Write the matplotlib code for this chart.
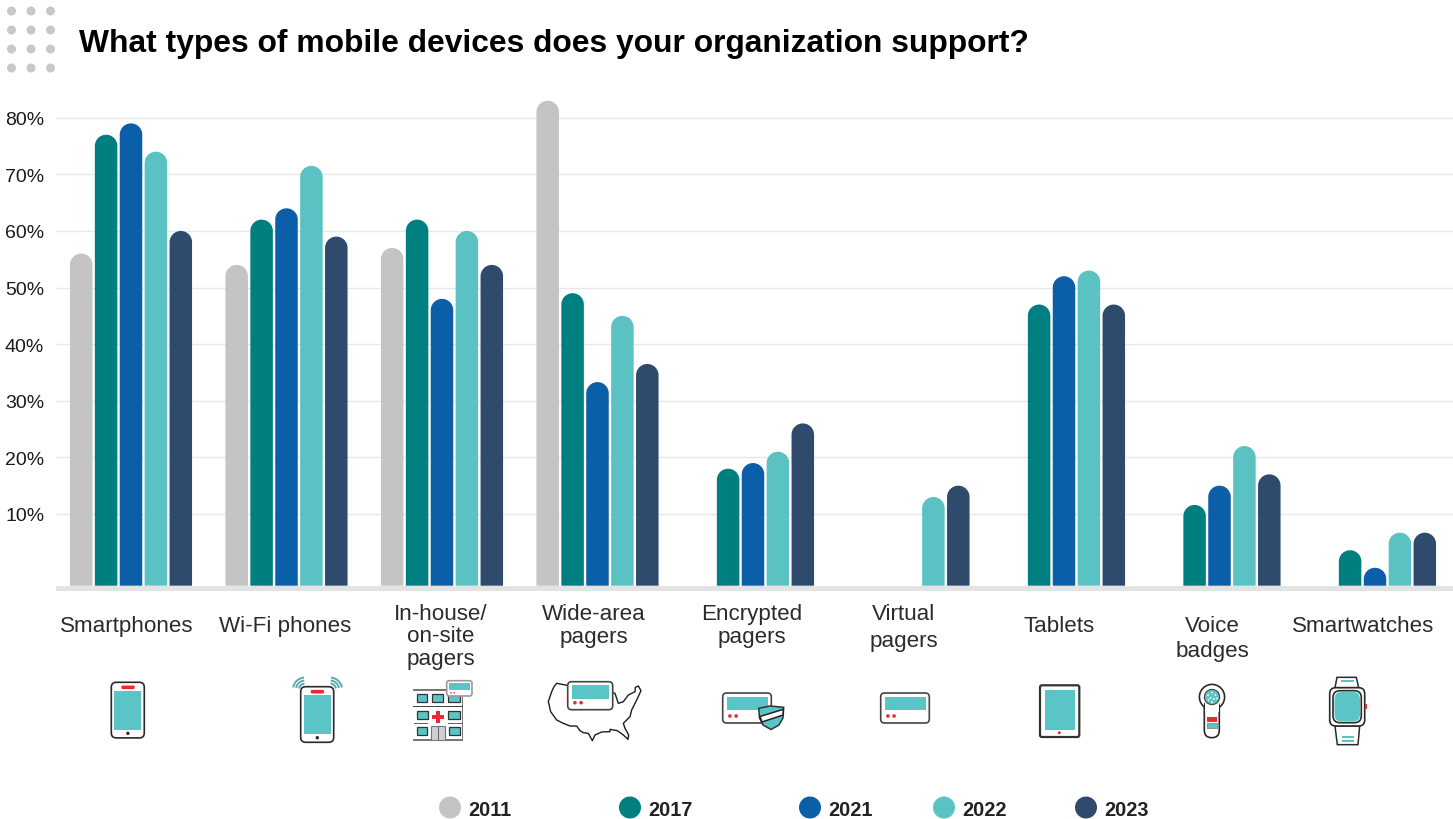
import numpy as np
import matplotlib
matplotlib.use('Agg')
import matplotlib.pyplot as plt
from matplotlib.patches import Circle, FancyBboxPatch, PathPatch, Polygon, Rectangle, Arc
from matplotlib.path import Path

W, H = 1453, 820

years = ['2011', '2017', '2021', '2022', '2023']
year_colors = ['#c4c4c4', '#007f80', '#0a5fa8', '#5bc2c4', '#2e4a6d']
legend_x = [450, 630, 810, 944, 1086]

labels = ['Smartphones', 'Wi-Fi phones', 'In-house/\non-site\npagers', 'Wide-area\npagers',
          'Encrypted\npagers', 'Virtual\npagers', 'Tablets', 'Voice\nbadges', 'Smartwatches']
label_x = [127, 285, 441, 594, 752, 904, 1059, 1212, 1363]
label_y = [626, 626, 636, 625, 625, 627, 626, 638, 626]
label_spacing = [1.2, 1.2, 1.07, 1.13, 1.13, 1.33, 1.2, 1.3, 1.2]

v2011 = [56, 54, 57, 83, None, None, None, None, None]
v2017 = [77, 62, 62, 49, 18, None, 47, 11.6, 3.6]
v2021 = [79, 64, 48, 33.3, 19, None, 52, 15, 0.5]
v2022 = [74, 71.5, 60, 45, 21, 13, 53, 22, 6.7]
v2023 = [60, 59, 54, 36.5, 26, 15, 47, 17, 6.7]
series = [v2011, v2017, v2021, v2022, v2023]

yticks = [10, 20, 30, 40, 50, 60, 70, 80]

TEAL = '#5bc4c6'
RED = '#ee2737'
INK = '#2a2a2a'

# pixel scale of the value axis, bars run below zero down to the thick base line
PX_PER_PCT = 5.661
BASE = -(586 - 570.9) / PX_PER_PCT
GROUP_PX = 155.5
SLOT = 24.9 / GROUP_PX
BAR_W = 22.5 / GROUP_PX

TEXT_FONT = ['Liberation Sans', 'DejaVu Sans']


def round_top(rect, radius_px=11.25):
    """Swap a bar rectangle for the same bar with a rounded top"""
    x0, y0 = rect.get_x(), rect.get_y()
    w, h = rect.get_width(), rect.get_height()
    x1, y1 = x0 + w, y0 + h
    rx = w / 2
    ry = radius_px / PX_PER_PCT
    k = 0.5523
    verts = [(x0, y0), (x0, y1 - ry),
             (x0, y1 - ry + k * ry), (x0 + rx - k * rx, y1), (x0 + rx, y1),
             (x0 + rx + k * rx, y1), (x1, y1 - ry + k * ry), (x1, y1 - ry),
             (x1, y0), (x0, y0)]
    codes = [Path.MOVETO, Path.LINETO, Path.CURVE4, Path.CURVE4, Path.CURVE4,
             Path.CURVE4, Path.CURVE4, Path.CURVE4, Path.LINETO, Path.CLOSEPOLY]
    patch = PathPatch(Path(verts, codes), facecolor=rect.get_facecolor(), edgecolor='none', zorder=3)
    rect.remove()
    return patch


def draw_bars(ax):
    for s, (values, color) in enumerate(zip(series, year_colors)):
        for i, v in enumerate(values):
            if v is None:
                continue
            x = i + (s - 2) * SLOT
            bar = ax.bar(x, v - BASE, BAR_W, bottom=BASE, color=color)[0]
            ax.add_patch(round_top(bar))


def rbox(ov, x0, y0, x1, y1, r, fc='white', ec=INK, lw=1.2, z=5):
    ov.add_patch(FancyBboxPatch((x0 + r, y0 + r), x1 - x0 - 2 * r, y1 - y0 - 2 * r,
                                boxstyle=f'round,pad={r},rounding_size={r}',
                                fc=fc, ec=ec, lw=lw, zorder=z))


def box(ov, x0, y0, x1, y1, fc, ec='none', lw=0, z=6):
    ov.add_patch(Rectangle((x0, y0), x1 - x0, y1 - y0, fc=fc, ec=ec, lw=lw, zorder=z))


def dot(ov, x, y, r, fc=RED, z=7):
    ov.add_patch(Circle((x, y), r, fc=fc, ec='none', zorder=z))


def phone(ov, x0, y0):
    rbox(ov, x0, y0, x0 + 33, y0 + 55.6, 5)
    box(ov, x0 + 2.8, y0 + 8.5, x0 + 30, y0 + 47.5, TEAL)
    rbox(ov, x0 + 10, y0 + 3.2, x0 + 23.4, y0 + 6.8, 1.5, fc=RED, ec='none', lw=0, z=7)
    dot(ov, x0 + 16.6, y0 + 51, 1.7, fc=INK)


def pager(ov, x0, y0, x1, y1, z=5):
    rbox(ov, x0, y0, x1, y1, 4, ec='#444444', z=z)
    box(ov, x0 + 3.8, y0 + 3.7, x1 - 3.6, y0 + 17, TEAL, z=z + 1)
    dot(ov, x0 + 7.2, y1 - 7, 1.8, z=z + 1)
    dot(ov, x0 + 13.4, y1 - 7, 1.8, z=z + 1)


def hospital(ov):
    box(ov, 413.5, 690, 462.5, 740, 'white', z=4)
    box(ov, 413, 688.5, 463, 691, '#777777')
    box(ov, 413, 739, 463, 741.3, '#777777')
    box(ov, 413.5, 690, 414.3, 740, '#777777')
    box(ov, 461.7, 690, 462.5, 740, '#777777')
    box(ov, 413, 706, 463, 707.4, '#444444')
    box(ov, 413.5, 723, 428, 724.2, '#666666')
    box(ov, 448, 723, 462.5, 724.2, '#666666')
    rows = [(694.3, 702.3, [(416.7, 427.3), (432.3, 443.3), (448.3, 460)]),
            (711, 719, [(416.7, 428), (448.3, 460)]),
            (727.3, 735, [(416.7, 427.3), (449, 460)])]
    for y0, y1, cols in rows:
        for x0, x1 in cols:
            box(ov, x0, y0, x1, y1, TEAL, ec='#333333', lw=0.9)
    box(ov, 431, 726, 445, 740, '#d0d0d0', ec='#777777', lw=0.8)
    box(ov, 437.5, 726, 438.5, 740, '#666666', z=7)
    box(ov, 432, 714.7, 444, 718.7, RED)
    box(ov, 436, 710.7, 440, 722.7, RED)
    rbox(ov, 446.7, 680.7, 472, 696, 2.5, ec='#999999', z=8)
    box(ov, 449, 682.7, 470, 690, TEAL, z=9)
    dot(ov, 451, 692.8, 0.8, z=9)
    dot(ov, 454.2, 692.8, 0.8, z=9)


def wifi_arcs(ov):
    for cx, a0, a1 in [(305, 190, 265), (330, 275, 350)]:
        for r in [6, 9, 12]:
            # y axis of this layer points down, angles are mirrored accordingly
            ov.add_patch(Arc((cx, 689.5), 2 * r, 2 * r, theta1=a0, theta2=a1,
                             ec='#5aa9ad', lw=1.4, zorder=5))


def usa(ov):
    outline = [(112, 76), (80, 70), (72, 80), (65, 95), (55, 125), (62, 155), (80, 180), (100, 190),
               (120, 198), (140, 198), (150, 212), (160, 218), (175, 220), (187, 242), (195, 225),
               (215, 216), (240, 215), (240, 208), (262, 212), (280, 225), (294, 238), (296, 225),
               (285, 205), (280, 190), (300, 170), (305, 150), (320, 120), (333, 92), (325, 78),
               (316, 82), (315, 95), (295, 105), (280, 125), (265, 130), (255, 100), (248, 98)]
    xs = [530 + p[0] / 3 for p in outline]
    ys = [660 + p[1] / 3 for p in outline]
    ov.plot(xs, ys, color='#1c1c1c', lw=1.0, zorder=4)
    pager(ov, 567.7, 681.7, 612.7, 709.7)


def encrypted(ov):
    pager(ov, 722.7, 693, 771.3, 723)
    shield = [(758.7, 708.3), (770, 706), (783.7, 707.3), (783, 718), (779, 725), (771, 729.5), (763, 725), (759.5, 718)]
    ov.add_patch(Polygon(shield, closed=True, fc=TEAL, ec='#333333', lw=1.1, zorder=8))
    ov.add_patch(Polygon([(760, 716.5), (783.3, 709.3), (783, 715), (762, 722)], closed=True,
                         fc='white', ec='#222222', lw=1.1, zorder=9))


def tablet(ov):
    rbox(ov, 1040, 685.3, 1079.3, 737, 2, lw=1.6, ec='#333333')
    box(ov, 1045, 690, 1075, 730, TEAL)
    dot(ov, 1059.3, 732.8, 1.5)


def badge(ov):
    cx, cy = 1212, 697
    ov.add_patch(Circle((cx, cy), 12.6, fc='white', ec=INK, lw=1.2, zorder=5))
    rbox(ov, 1204.3, 700, 1219.3, 737.7, 7.4, z=5)
    # hide the seam between the round head and the handle
    box(ov, 1205, 700, 1218.6, 712, 'white', z=5.5)
    dot(ov, cx, cy, 7.6, fc=TEAL, z=6)
    ov.add_patch(Circle((cx, cy), 7.6, fc='none', ec='#444444', lw=0.8, zorder=7))
    for dx, dy in [(-4, -2), (0, -4.5), (3.5, -2), (-1.5, 1), (2, 2), (-3.5, 3), (5, 1.5), (0, 5)]:
        dot(ov, cx + dx, cy + dy, 0.9, fc='white', z=8)
    box(ov, 1207, 717.3, 1216.7, 722, RED)
    box(ov, 1207, 723.3, 1216.7, 728.3, TEAL, ec='#888888', lw=0.6)


def watch(ov):
    def px(x, y):
        return 1020 + x / 3, 660 + y / 3
    top = [px(945, 83), px(951, 52), px(1009, 52), px(1016, 83)]
    bottom = [px(945, 198), px(952, 254), px(1014, 254), px(1019, 198)]
    for strap in (top, bottom):
        ov.add_patch(Polygon(strap, closed=True, fc='white', ec=INK, lw=1.1, zorder=4))
    rbox(ov, 1329.7, 687.7, 1364.7, 726, 6, z=5)
    rbox(ov, 1333, 690.7, 1361.3, 722.7, 7, z=6)
    rbox(ov, 1334.5, 692, 1360, 721.5, 7, fc=TEAL, ec='none', lw=0, z=7)
    box(ov, 1364.5, 704.3, 1367, 709, RED)
    box(ov, 1340.7, 680, 1354, 681.6, TEAL)
    box(ov, 1341.7, 736.2, 1354.3, 737.8, TEAL)
    box(ov, 1341.7, 740.2, 1354.3, 741.8, TEAL)


def draw_icons(ov):
    phone(ov, 111.3, 682.3)
    phone(ov, 300.7, 686.7)
    wifi_arcs(ov)
    hospital(ov)
    usa(ov)
    encrypted(ov)
    pager(ov, 880.7, 693, 929.3, 723)
    tablet(ov)
    badge(ov)
    watch(ov)


def main():
    fig = plt.figure(figsize=(W / 100, H / 100), dpi=100, facecolor='white')

    ax = fig.add_axes([56 / W, 1 - 586.7 / H, (W - 56) / W, (586.7 - 90.7) / H])
    ax.set_xlim((56 - 131) / GROUP_PX, (W - 131) / GROUP_PX)
    ax.set_ylim(BASE, BASE + (586 - 90) / PX_PER_PCT)
    draw_bars(ax)
    ax.set_xticks([])
    ax.set_yticks(yticks)
    ax.set_yticklabels([f'{t}%' for t in yticks], family=TEXT_FONT, fontsize=14, color='#1a1a1a')
    ax.tick_params(axis='y', length=0, pad=8.5)
    ax.grid(axis='y', color='#e8e8e8', lw=1.0, zorder=1)
    ax.set_axisbelow(True)
    for spine in ax.spines.values():
        spine.set_visible(False)

    # layer in image pixels for the furniture around the plot
    ov = fig.add_axes([0, 0, 1, 1], zorder=5)
    ov.set_xlim(0, W)
    ov.set_ylim(H - 1, -1)
    ov.axis('off')
    ov.patch.set_alpha(0)

    ov.add_patch(Rectangle((56, 585.7), W - 56, 5, fc='#e3e3e3', ec='none'))

    for x in [11.5, 31, 50.5]:
        for y in [11, 30, 49, 68]:
            ov.add_patch(Circle((x, y), 4.5, fc='#c8c8c8', ec='none'))

    ov.text(79, 39.5, 'What types of mobile devices does your organization support?',
            family=TEXT_FONT, fontweight='bold', fontsize=22.9, color='black', va='center_baseline', ha='left')

    for text, x, y, sp in zip(labels, label_x, label_y, label_spacing):
        ov.text(x, y, text, family=TEXT_FONT, fontsize=16.1, color='#2b2b2b', ha='center', va='center',
                linespacing=sp, multialignment='center')

    draw_icons(ov)

    for year, color, x in zip(years, year_colors, legend_x):
        ov.add_patch(Circle((x, 807.5), 11, fc=color, ec='none', clip_on=False))
        ov.text(x + 18.5, 807.5, year, family=TEXT_FONT, fontweight='bold', fontsize=14.4, color='#222222',
                ha='left', va='center_baseline')

    fig.savefig('out.png', dpi=100)


if __name__ == "__main__":
    main()
